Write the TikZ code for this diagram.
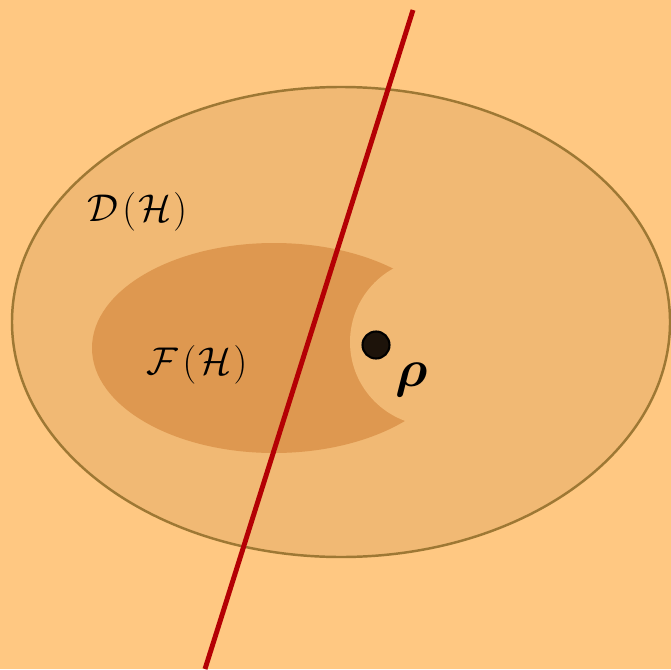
\documentclass[tikz,border=0pt]{standalone}
\usepackage{fix-cm}
\usepackage{bm}
\usepackage{tikz}

\definecolor{bgorange}{RGB}{255,200,130}
\definecolor{setD}{RGB}{241,185,116}
\definecolor{setF}{RGB}{222,152,80}
\definecolor{rimD}{RGB}{158,120,52}
\definecolor{cutred}{RGB}{180,0,4}

\begin{document}
\begin{tikzpicture}[x=0.02cm, y=-0.02cm,
	setlabel/.style={font=\fontsize{22}{24}\selectfont},
	statedot/.style={circle, fill=black!85!brown, draw=black, line width=1.2pt, minimum size=0.54cm, inner sep=0pt}]
	\fill [bgorange] (0, 0) rectangle (671, 669);
	\useasboundingbox (0, 0) rectangle (671, 669);
	\draw [fill=setD, draw=rimD, line width=1.4pt] (341, 322) ellipse [x radius=329, y radius=235];
	\fill [setF] (274, 348) ellipse [x radius=182, y radius=105];
	\fill [setD] (434, 342) circle (84);
	\node [setlabel] (dlabel) at (137, 212) {$\mathcal{D}\mkern2mu(\mkern1mu\mathcal{H}\mkern1mu)$};
	\node [setlabel] (flabel) at (197, 365) {$\mathcal{F}\mkern2mu(\mkern1mu\mathcal{H}\mkern1mu)$};
	\coordinate (cuttop) at (413, 10);
	\coordinate (cutbot) at (205, 669);
	\draw [cutred, line width=2.8pt] (cuttop) -- (cutbot);
	\node [statedot] (state) at (376, 345) {};
	\node [font=\fontsize{30}{32}\selectfont] (rho) at (412, 380) {$\bm{\rho}$};
\end{tikzpicture}
\end{document}
